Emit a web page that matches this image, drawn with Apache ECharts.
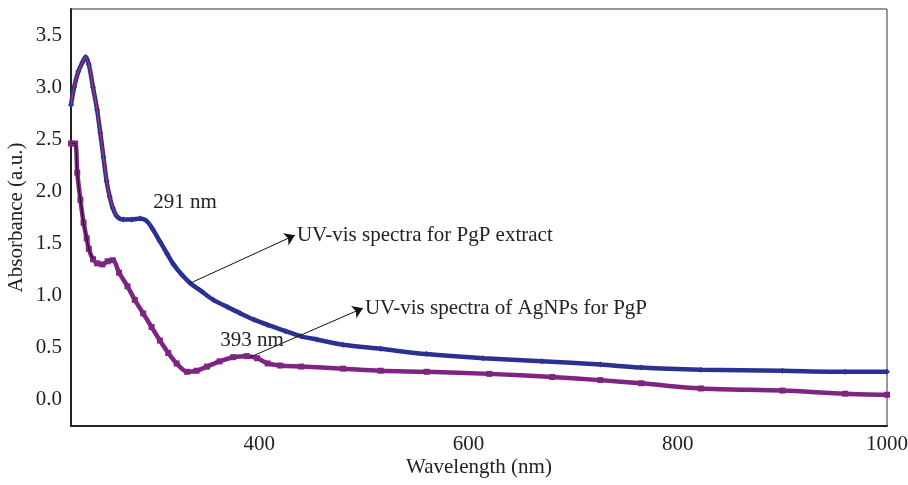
<!DOCTYPE html>
<html>
<head>
<meta charset="utf-8">
<script src="https://cdn.jsdelivr.net/npm/echarts@6/dist/echarts.min.js"></script>
<style>
  html, body { margin: 0; padding: 0; background: #fff; }
  #chart { width: 908px; height: 485px; }
</style>
</head>
<body>
<div id="chart"></div>
<script>
// wavelength (nm) / absorbance
var extractWl = [220, 223, 227, 231, 234, 237, 241, 245, 248, 251, 254, 257, 260, 264, 270, 278, 286, 292, 298, 305, 312, 318, 326, 334, 345, 356, 370, 382, 395, 408, 425, 440, 455, 480, 516, 560, 614, 670, 726, 765, 822, 900, 960, 1000]
var extractAbs = [2.83, 3.00, 3.15, 3.24, 3.29, 3.22, 3.00, 2.78, 2.56, 2.33, 2.10, 1.95, 1.84, 1.76, 1.73, 1.73, 1.74, 1.72, 1.64, 1.52, 1.40, 1.30, 1.20, 1.12, 1.04, 0.96, 0.89, 0.83, 0.77, 0.72, 0.66, 0.61, 0.58, 0.53, 0.49, 0.44, 0.40, 0.37, 0.34, 0.31, 0.29, 0.28, 0.27, 0.27]

var agWl = [220, 224, 226, 229, 232, 235, 237, 241, 245, 250, 255, 260, 266, 274, 281, 289, 297, 305, 313, 321, 331, 340, 350, 362, 375, 388, 398, 408, 420, 440, 480, 516, 560, 620, 680, 726, 765, 822, 900, 960, 1000]
var agAbs = [2.46, 2.46, 2.18, 1.92, 1.70, 1.55, 1.45, 1.35, 1.31, 1.30, 1.33, 1.34, 1.22, 1.09, 0.96, 0.83, 0.70, 0.57, 0.45, 0.35, 0.27, 0.28, 0.32, 0.37, 0.41, 0.42, 0.40, 0.35, 0.33, 0.32, 0.30, 0.28, 0.27, 0.25, 0.22, 0.19, 0.16, 0.11, 0.09, 0.06, 0.05]

var xTicks = [400, 600, 800, 1000]
var yTicks = [0, 0.5, 1, 1.5, 2, 2.5, 3, 3.5]

var font = '"Liberation Serif", "DejaVu Serif", serif'
var blue = '#2b3192'
var purple = '#7e2483'

function pairs(xs, ys, maxX) {
    var out = []
    for (var i = 0; i < xs.length; i++) {
        if (maxX === undefined || xs[i] <= maxX) out.push([xs[i], ys[i]])
    }
    return out
}

var chart = echarts.init(document.getElementById('chart'))

var option = {
    animation: false,
    grid: {
        left: 71, right: 21, top: 9, bottom: 59,
        outerBoundsMode: 'none',
        containLabel: false,
        show: true,
        borderColor: '#333',
        borderWidth: 1
    },
    xAxis: {
        type: 'value',
        min: 220,
        max: 1000,
        name: 'Wavelength (nm)',
        nameLocation: 'middle',
        nameGap: 31,
        nameMoveOverlap: false,
        nameTextStyle: {fontFamily: font, fontSize: 21, color: '#222'},
        axisLine: {show: true, onZero: false, lineStyle: {color: '#222', width: 2}},
        axisTick: {show: false},
        splitLine: {show: false},
        axisLabel: {
            customValues: xTicks,
            margin: 8,
            formatter: function (v) { return String(v) },
            fontFamily: font, fontSize: 21, color: '#222'
        }
    },
    yAxis: {
        type: 'value',
        min: -0.25,
        max: 3.75,
        name: 'Absorbance (a.u.)',
        nameLocation: 'middle',
        nameGap: 44,
        nameMoveOverlap: false,
        nameTextStyle: {fontFamily: font, fontSize: 21, color: '#222'},
        axisLine: {show: true, onZero: false, lineStyle: {color: '#222', width: 2}},
        axisTick: {show: false},
        splitLine: {show: false},
        axisLabel: {
            customValues: yTicks,
            margin: 9,
            formatter: function (v) { return v.toFixed(1) },
            fontFamily: font, fontSize: 21, color: '#222'
        }
    },
    series: [
        {
            name: 'PgP extract',
            type: 'line',
            data: pairs(extractWl, extractAbs),
            smooth: 0.3,
            symbol: 'diamond',
            symbolSize: 6,
            showSymbol: true,
            itemStyle: {color: blue},
            lineStyle: {color: blue, width: 4.5},
            z: 3,
            markLine: {
                silent: true,
                symbol: ['none', 'arrow'],
                symbolSize: 10,
                label: {show: false},
                lineStyle: {color: '#111', width: 1, type: 'solid'},
                data: [
                    [{coord: [334, 1.12]}, {coord: [434, 1.58]}],
                    [{coord: [391, 0.41]}, {coord: [499, 0.88]}]
                ]
            },
            markPoint: {
                silent: true,
                symbol: 'circle',
                symbolSize: 0,
                label: {
                    show: true,
                    fontFamily: font,
                    fontSize: 21,
                    color: '#222',
                    position: 'right',
                    distance: 2
                },
                data: [
                    {coord: [434, 1.58], label: {formatter: 'UV-vis spectra for PgP extract'}},
                    {coord: [499, 0.88], label: {formatter: 'UV-vis spectra of AgNPs for PgP'}},
                    {coord: [329, 1.89], label: {formatter: '291 nm', position: 'inside'}},
                    {coord: [393, 0.57], label: {formatter: '393 nm', position: 'inside'}}
                ]
            }
        },
        {
            name: 'PgP extract core',
            type: 'line',
            data: pairs(extractWl, extractAbs, 264),
            smooth: 0.3,
            showSymbol: false,
            lineStyle: {color: '#e0343a', width: 1},
            z: 4
        },
        {
            name: 'AgNPs',
            type: 'line',
            data: pairs(agWl, agAbs),
            smooth: 0.3,
            symbol: 'rect',
            symbolSize: 6,
            showSymbol: true,
            itemStyle: {color: purple},
            lineStyle: {color: purple, width: 4.5},
            z: 3
        },
        {
            name: 'AgNPs core',
            type: 'line',
            data: pairs(agWl, agAbs, 241),
            smooth: 0.3,
            showSymbol: false,
            lineStyle: {color: '#111', width: 1},
            z: 4
        }
    ]
}

chart.setOption(option)
</script>
</body>
</html>
